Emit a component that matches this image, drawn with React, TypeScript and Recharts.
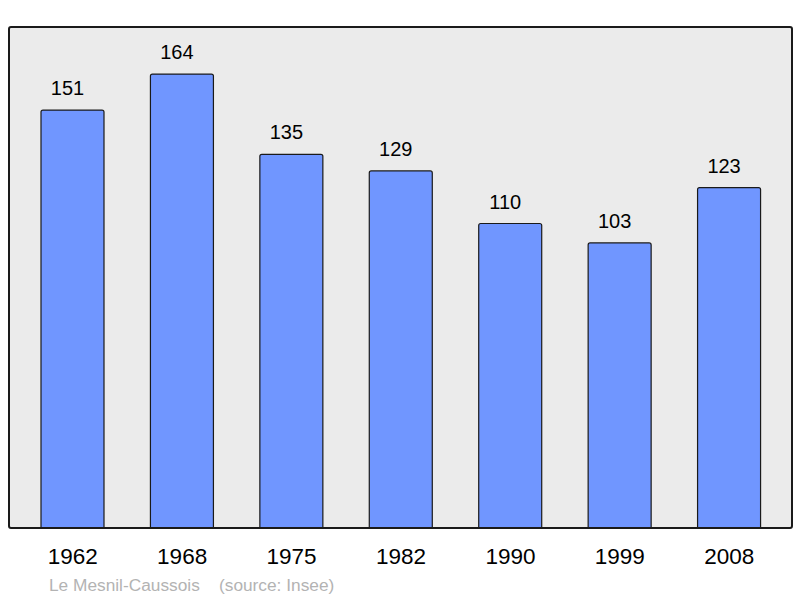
import { BarChart, Bar, XAxis, YAxis, CartesianGrid, LabelList } from 'recharts'

const years = ['1962', '1968', '1975', '1982', '1990', '1999', '2008']
const population = [151, 164, 135, 129, 110, 103, 123]

const data = years.map((year, i) => ({ year, value: population[i] }))

const font = '"Liberation Sans", Arial, sans-serif'

// value label a little left of the bar centre, as in the original
const renderValue = (props: any) => {
  const { x, y, width, value } = props
  return (
    <text
      x={Number(x) + Number(width) / 2 - 5}
      y={Number(y) - 15}
      textAnchor="middle"
      fill="#000"
      fontSize={20}
      fontFamily={font}
    >
      {value}
    </text>
  )
}

export default function App() {
  return (
    <div style={{ position: 'absolute', left: 0, top: 0, width: 800, height: 598, background: '#fff', fontFamily: font }}>
      <BarChart
        width={800}
        height={598}
        data={data}
        margin={{ top: 27, right: 8, bottom: 0, left: 9 }}
        barCategoryGap={0}
      >
        <CartesianGrid fill="#ebebeb" stroke="none" vertical={false} horizontal={false} />
        <XAxis
          dataKey="year"
          height={70}
          axisLine={false}
          tickLine={false}
          tickSize={0}
          tickMargin={20}
          padding={{ left: 9, right: 8 }}
          tick={{ fill: '#000', fontSize: 22.5, fontFamily: font }}
        />
        <YAxis hide domain={[0, 181]} />
        <Bar
          dataKey="value"
          barSize={63}
          fill="#7096ff"
          stroke="#1a1a1a"
          strokeWidth={1.2}
          radius={[2, 2, 0, 0]}
          isAnimationActive={false}
        >
          <LabelList dataKey="value" content={renderValue} />
        </Bar>
      </BarChart>
      {/* frame border drawn over the plot */}
      <div
        style={{
          position: 'absolute',
          left: 8,
          top: 26,
          width: 785,
          height: 503,
          border: '2px solid #1a1a1a',
          borderRadius: 3,
          boxSizing: 'border-box',
          pointerEvents: 'none',
        }}
      />
      <div
        style={{
          position: 'absolute',
          left: 49,
          top: 575,
          fontSize: 17.3,
          color: '#b3b3b3',
          whiteSpace: 'pre',
          lineHeight: '20px',
        }}
      >
        {'Le Mesnil-Caussois    (source: Insee)'}
      </div>
    </div>
  )
}
